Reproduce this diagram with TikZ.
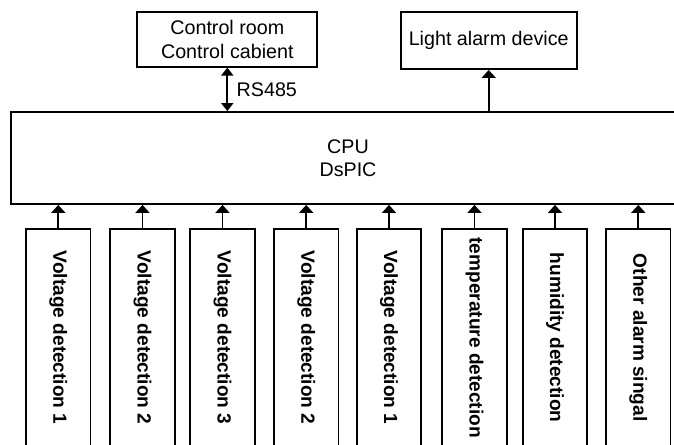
\documentclass[tikz,border=0pt]{standalone}
\usepackage{fontspec}
\setmainfont{Liberation Sans}
\usetikzlibrary{arrows.meta}
\begin{document}
\begin{tikzpicture}[x=1pt,y=-1pt,
  box/.style={draw, line width=1.8pt, inner sep=0pt, align=center, font=\fontsize{19.7}{23.3}\selectfont},
  det/.style={draw, line width=1.8pt, rotate=-90, minimum width=216.7pt, minimum height=64.5pt, inner sep=0pt, font=\bfseries\fontsize{19.1}{23}\selectfont},
  lbl/.style={inner sep=0pt, font=\fontsize{19.7}{23}\selectfont},
  arr/.style={line width=1.8pt, -{Triangle[width=14pt,length=8pt]}},
  arrb/.style={line width=1.8pt, {Triangle[width=12pt,length=8pt]}-{Triangle[width=12pt,length=8pt]}},
]
\useasboundingbox (0,0) rectangle (674,444);
\node[box, minimum width=180pt, minimum height=54.4pt] (cr) at (227.3,39.5) {Control room\\Control cabient};
\node[box, minimum width=176pt, minimum height=56.7pt] (la) at (488.7,40.7) {Light alarm device};
\node[box, minimum width=674pt, minimum height=92pt] (cpu) at (348,158) {CPU\\DsPIC};
\draw[arrb] (cr.south) -- (cr.south |- cpu.north);
\node[lbl, anchor=west] (rs) at (236.5,89.7) {RS485};
\draw[arr] (la.south |- cpu.north) -- (la.south);

\node[det] (d1) at (58.3,337.7) {Voltage detection 1};
\node[det] (d2) at (142.5,337.7) {Voltage detection 2};
\node[det] (d3) at (222.5,337.7) {Voltage detection 3};
\node[det] (d4) at (306.2,337.7) {Voltage detection 2};
\node[det] (d5) at (389,337.7) {Voltage detection 1};
\node[det] (d6) at (474.5,337.7) {temperature detection};
\node[det] (d7) at (555,337.7) {humidity detection};
\node[det] (d8) at (638.3,337.7) {Other alarm singal};
\foreach \n in {d1,d2,d3,d4,d5,d6,d7,d8}
  \draw[arr] (\n.west) -- (\n.west |- cpu.south);
\end{tikzpicture}
\end{document}
